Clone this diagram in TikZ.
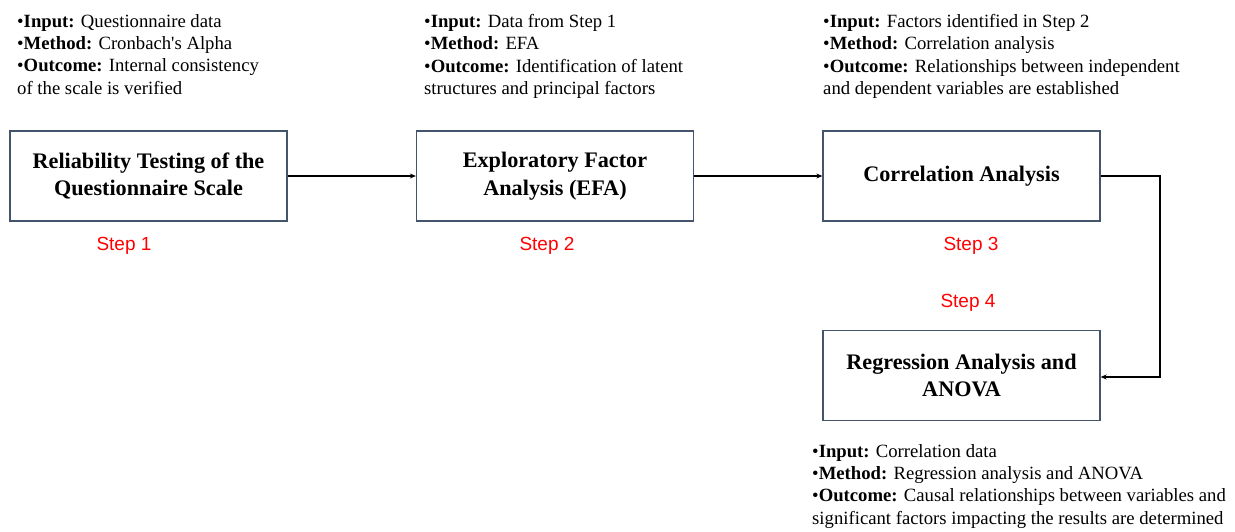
\documentclass[tikz,border=0pt]{standalone}
\usepackage{fontspec}
\setmainfont{Liberation Serif}
\newfontfamily\stepfont{Liberation Sans}
\usetikzlibrary{arrows.meta}
\definecolor{boxedge}{HTML}{44546A}
\definecolor{stepred}{HTML}{FF0000}
\tikzset{
  stagebox/.style={draw=boxedge, line width=1.3pt, minimum width=277pt, minimum height=90pt, inner sep=0pt, align=center, font=\fontsize{22.2}{27.5}\selectfont\bfseries},
  steplabel/.style={text=stepred, font=\stepfont\fontsize{19}{22}\selectfont, inner sep=0pt},
  note/.style={anchor=north west, inner sep=0pt, align=left, font=\fontsize{18.7}{22.4}\selectfont},
  flow/.style={line width=1.3pt, -{Stealth[length=6pt,width=5pt]}}
}
\begin{document}
\begin{tikzpicture}[x=1pt,y=-1pt]
\useasboundingbox (0,0) rectangle (1235,531);
\node[stagebox] (b1) at (148.5,176) {Reliability Testing of the\\Questionnaire Scale};
\node[stagebox] (b2) at (555,176) {Exploratory Factor\\Analysis (EFA)};
\node[stagebox] (b3) at (961.5,176) {Correlation Analysis};
\node[stagebox] (b4) at (961.5,375.5) {Regression Analysis and\\ANOVA};
\node[steplabel] (s1) at (124,246) {Step 1};
\node[steplabel] (s2) at (547,246) {Step 2};
\node[steplabel] (s3) at (971,246) {Step 3};
\node[steplabel] (s4) at (968,303) {Step 4};
\node[note] (n1) at (17,14) {•\textbf{Input:} Questionnaire data\\•\textbf{Method:} Cronbach\textquotesingle s Alpha\\•\textbf{Outcome:} Internal consistency\\of the scale is verified};
\node[note] (n2) at (424,14) {•\textbf{Input:} Data from Step 1\\•\textbf{Method:} EFA\\•\textbf{Outcome:} Identification of latent\\structures and principal factors};
\node[note] (n3) at (823,14) {•\textbf{Input:} Factors identified in Step 2\\•\textbf{Method:} Correlation analysis\\•\textbf{Outcome:} Relationships between independent\\and dependent variables are established};
\node[note] (n4) at (812,444) {•\textbf{Input:} Correlation data\\•\textbf{Method:} Regression analysis and ANOVA\\•\textbf{Outcome:} Causal relationships between variables and\\significant factors impacting the results are determined};
\draw[flow] (b1.east) -- (b2.west);
\draw[flow] (b2.east) -- (b3.west);
\coordinate (turn) at (1160,176);
\draw[flow] (b3.east) -- (turn) |- ([yshift=-1.5pt]b4.east);
\end{tikzpicture}
\end{document}
